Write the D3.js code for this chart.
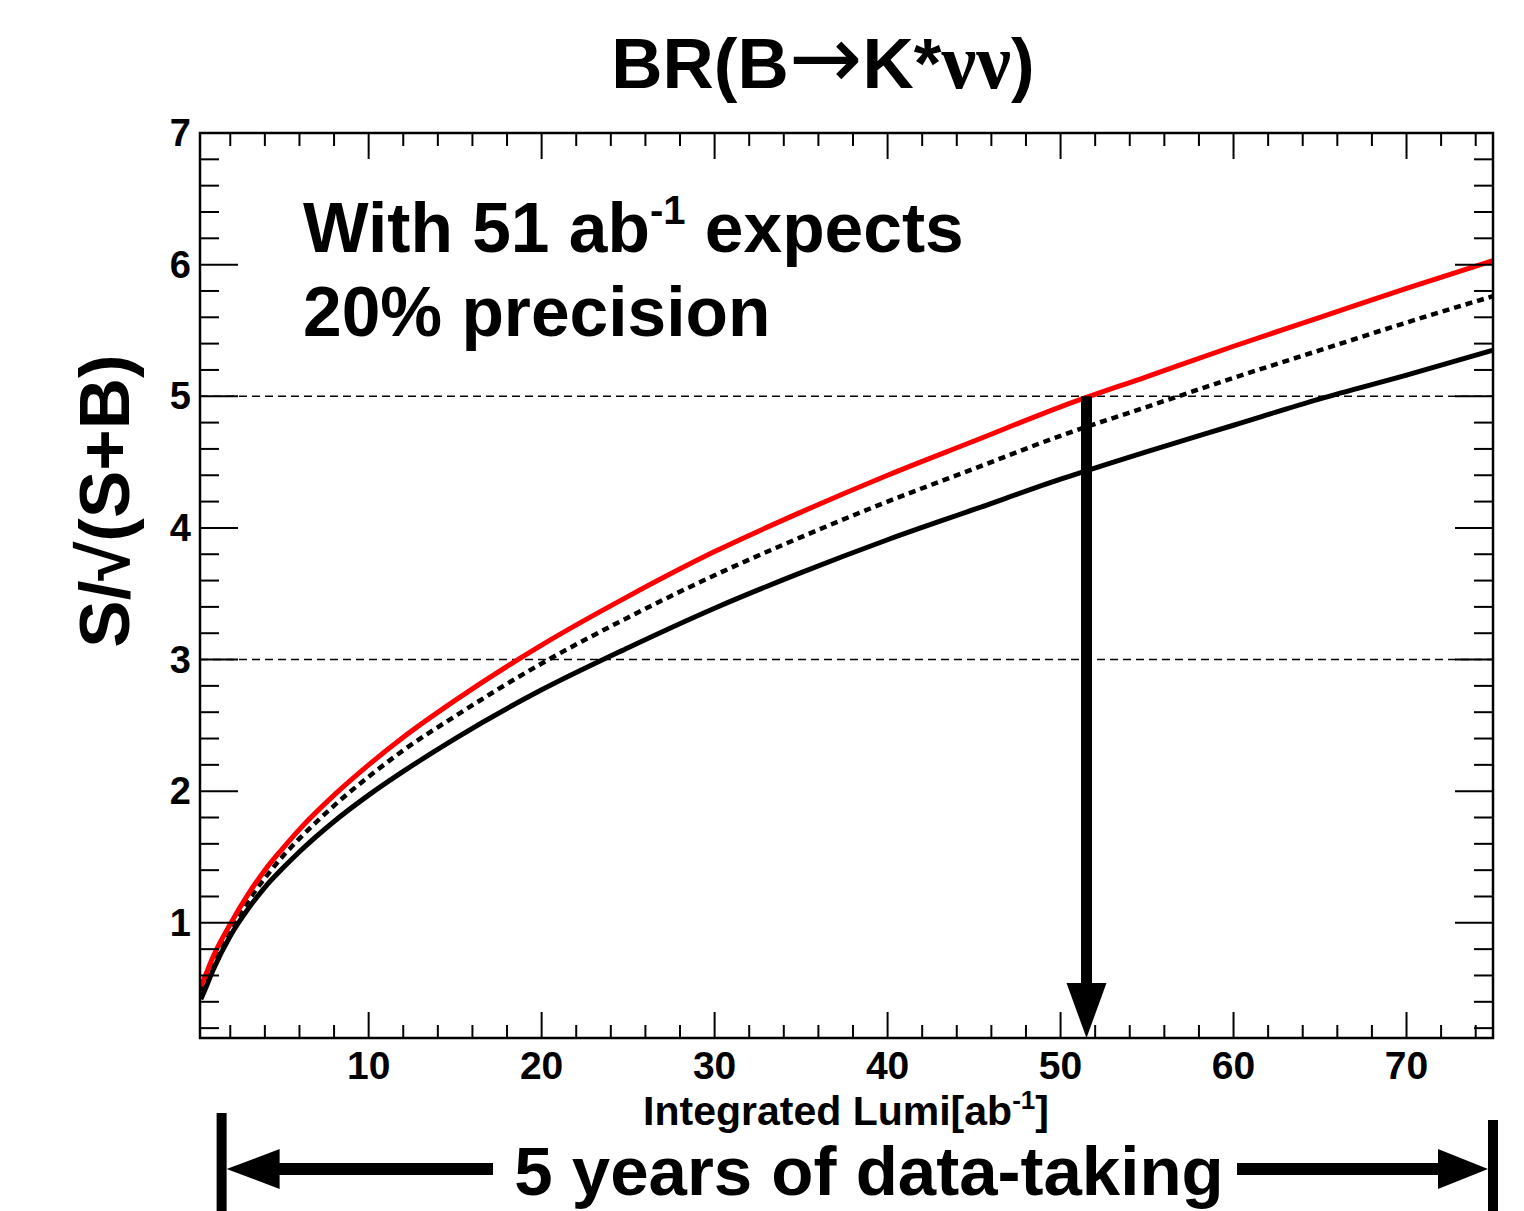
<!DOCTYPE html>
<html>
<head>
<meta charset="utf-8">
<script src="https://cdn.jsdelivr.net/npm/d3@7"></script>
<style>
  html, body { margin: 0; padding: 0; background: #fff; }
  svg { display: block; }
  text { font-family: "Liberation Sans", Arial, Helvetica, sans-serif; font-weight: bold; fill: #000; }
</style>
</head>
<body>
<svg id="chart" width="1524" height="1211"></svg>
<script>
// ---------------- data ----------------
const lumi      = [0.3, 0.5, 1, 2, 3, 4, 5, 6, 8, 10, 12, 15, 20, 25, 30, 35, 40, 45, 50, 55, 60, 65, 70, 75];
const redVals   = [0.52, 0.58, 0.74, 0.99, 1.21, 1.40, 1.56, 1.71, 1.97, 2.20, 2.41, 2.69, 3.11, 3.48, 3.82, 4.12, 4.40, 4.66, 4.92, 5.15, 5.38, 5.60, 5.82, 6.03];
const dotVals   = [0.48, 0.53, 0.70, 0.95, 1.16, 1.34, 1.50, 1.64, 1.89, 2.11, 2.31, 2.57, 2.97, 3.32, 3.64, 3.93, 4.20, 4.45, 4.70, 4.92, 5.14, 5.35, 5.56, 5.76];
const blackVals = [0.42, 0.48, 0.64, 0.90, 1.10, 1.27, 1.41, 1.54, 1.77, 1.97, 2.15, 2.40, 2.77, 3.09, 3.39, 3.66, 3.91, 4.14, 4.37, 4.58, 4.78, 4.98, 5.16, 5.35];
const xMajorTicks = [10, 20, 30, 40, 50, 60, 70];
const yMajorTicks = [1, 2, 3, 4, 5, 6, 7];
const refLines = [3, 5];
const arrowLumi = 51.5;      // vertical arrow position
const arrowTopVal = 5;       // vertical arrow starts at S/sqrt(S+B)=5
const spanLumi = [1.5, 75];  // "5 years of data-taking" span
const yLabel = "S/\u221A(S+B)";

// ---------------- layout ----------------
const svg = d3.select("#chart");
const L = 200, R = 1493, T = 133, B = 1038;
const x = d3.scaleLinear().domain([0.25, 75]).range([L, R]);
const y = d3.scaleLinear().domain([0.125, 7]).range([B, T]);

svg.append("defs").append("clipPath").attr("id", "clip")
  .append("rect").attr("x", L).attr("y", T).attr("width", R - L).attr("height", B - T);

// reference dashed lines
svg.append("g").selectAll("line").data(refLines).join("line")
  .attr("x1", L).attr("x2", R)
  .attr("y1", d => y(d)).attr("y2", d => y(d))
  .attr("stroke", "#000").attr("stroke-width", 1.5).attr("stroke-dasharray", "8,5");

// curves
const line = d3.line().x(d => x(d[0])).y(d => y(d[1])).curve(d3.curveMonotoneX);
const gC = svg.append("g").attr("clip-path", "url(#clip)");
gC.append("path").datum(lumi.map((l, i) => [l, blackVals[i]]))
  .attr("d", line).attr("fill", "none").attr("stroke", "#000").attr("stroke-width", 5);
gC.append("path").datum(lumi.map((l, i) => [l, dotVals[i]]))
  .attr("d", line).attr("fill", "none").attr("stroke", "#000").attr("stroke-width", 4.5)
  .attr("stroke-dasharray", "7,5");
gC.append("path").datum(lumi.map((l, i) => [l, redVals[i]]))
  .attr("d", line).attr("fill", "none").attr("stroke", "#ff0000").attr("stroke-width", 5);

// axes ticks (all four sides)
const xMinor = d3.range(2, 75, 2).filter(v => v % 10 !== 0);
const yMinor = d3.range(0.2, 7, 0.2).map(v => +v.toFixed(1)).filter(v => Math.abs(v - Math.round(v)) > 1e-6);
const tk = svg.append("g").attr("stroke", "#000").attr("stroke-width", 2);
function xTicks(vals, len) {
  tk.selectAll(null).data(vals).join("line")
    .attr("x1", d => x(d)).attr("x2", d => x(d)).attr("y1", B).attr("y2", B - len);
  tk.selectAll(null).data(vals).join("line")
    .attr("x1", d => x(d)).attr("x2", d => x(d)).attr("y1", T).attr("y2", T + len);
}
function yTicks(vals, len) {
  tk.selectAll(null).data(vals).join("line")
    .attr("x1", L).attr("x2", L + len).attr("y1", d => y(d)).attr("y2", d => y(d));
  tk.selectAll(null).data(vals).join("line")
    .attr("x1", R).attr("x2", R - len).attr("y1", d => y(d)).attr("y2", d => y(d));
}
xTicks(xMajorTicks, 26); xTicks(xMinor, 13);
yTicks(yMajorTicks, 38); yTicks(yMinor, 19);

// frame
svg.append("rect").attr("x", L).attr("y", T).attr("width", R - L).attr("height", B - T)
  .attr("fill", "none").attr("stroke", "#000").attr("stroke-width", 2.5);

// tick labels
svg.append("g").selectAll("text").data(xMajorTicks).join("text")
  .attr("x", d => x(d)).attr("y", 1079).attr("text-anchor", "middle")
  .attr("font-size", 39).text(d => d);
svg.append("g").selectAll("text").data(yMajorTicks).join("text")
  .attr("x", 191).attr("y", d => y(d) + 13).attr("text-anchor", "end")
  .attr("font-size", 38).text(d => d);

// title
const tt = svg.append("text").attr("x", 823).attr("y", 88).attr("text-anchor", "middle").attr("font-size", 71);
tt.append("tspan").text("BR(B");
tt.append("tspan").attr("font-family", "DejaVu Sans").attr("font-weight", "normal").attr("font-size", 88).text("\u2192");
tt.append("tspan").text("K*");
tt.append("tspan").attr("font-family", "Liberation Serif").attr("font-weight", "bold").attr("font-size", 78).text("\u03BD\u03BD");
tt.append("tspan").text(")");

// y label
svg.append("text").attr("transform", "translate(129,501) rotate(-90)")
  .attr("text-anchor", "middle").attr("font-size", 71).text(yLabel);

// x label
const xl = svg.append("text").attr("x", 846).attr("y", 1125).attr("text-anchor", "middle").attr("font-size", 41);
xl.append("tspan").text("Integrated Lumi[ab");
xl.append("tspan").attr("font-size", 26).attr("dy", -16).text("-1");
xl.append("tspan").attr("dy", 16).text("]");

// annotation text
const a1 = svg.append("text").attr("x", 303).attr("y", 252).attr("font-size", 69.5);
a1.append("tspan").text("With 51 ab");
a1.append("tspan").attr("font-size", 40).attr("dy", -28).text("-1");
a1.append("tspan").attr("dy", 28).text(" expects");
svg.append("text").attr("x", 303).attr("y", 336).attr("font-size", 69.5).text("20% precision");

// vertical arrow
const ax = x(arrowLumi);
svg.append("line").attr("x1", ax).attr("x2", ax).attr("y1", y(arrowTopVal)).attr("y2", 990)
  .attr("stroke", "#000").attr("stroke-width", 11);
svg.append("path").attr("d", `M${ax - 20},983 L${ax + 20},983 L${ax},${B} Z`).attr("fill", "#000");

// bottom span arrow
const sx0 = x(spanLumi[0]), sx1 = x(spanLumi[1]);
const sy = 1169;
const bottomG = svg.append("g");
bottomG.append("rect").attr("x", sx0 - 5).attr("y", 1113).attr("width", 10).attr("height", 100).attr("fill", "#000");
bottomG.append("rect").attr("x", sx1 - 5).attr("y", 1120).attr("width", 10).attr("height", 100).attr("fill", "#000");
bottomG.append("path").attr("d", `M${sx0 + 5},${sy} L${sx0 + 58},${sy - 20} L${sx0 + 58},${sy + 20} Z`).attr("fill", "#000");
bottomG.append("path").attr("d", `M${sx1 - 5},${sy} L${sx1 - 55},${sy - 20} L${sx1 - 55},${sy + 20} Z`).attr("fill", "#000");
bottomG.append("line").attr("x1", sx0 + 50).attr("x2", 493).attr("y1", sy).attr("y2", sy)
  .attr("stroke", "#000").attr("stroke-width", 12);
bottomG.append("line").attr("x1", 1237).attr("x2", sx1 - 50).attr("y1", sy).attr("y2", sy)
  .attr("stroke", "#000").attr("stroke-width", 12);
svg.append("text").attr("x", 869).attr("y", 1195).attr("text-anchor", "middle")
  .attr("font-size", 69).text("5 years of data-taking");
</script>
</body>
</html>
